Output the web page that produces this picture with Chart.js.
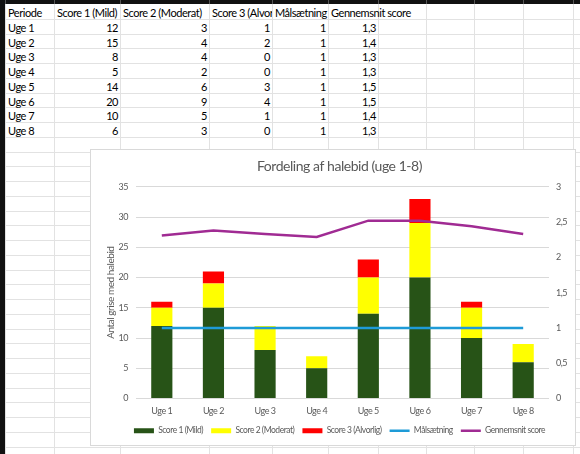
<!DOCTYPE html>
<html><head><meta charset="utf-8">
<script src="https://cdn.jsdelivr.net/npm/chart.js@4.4.0/dist/chart.umd.min.js"></script>
<style>
html,body{margin:0;padding:0;background:#fff;}
#sheet{position:relative;width:580px;height:454px;overflow:hidden;font-family:Lato, "Noto Sans", sans-serif;font-size:11px;letter-spacing:-0.45px;color:#000;}
.vl{position:absolute;top:0;width:1px;height:454px;background:#E2E2E2;}
.hl{position:absolute;left:0;height:1px;width:580px;background:#E2E2E2;}
.cell{position:absolute;height:15px;line-height:15px;overflow:hidden;white-space:nowrap;}
.topbar{position:absolute;left:0;top:0;width:580px;height:4px;background:#111;}
.leftbar{position:absolute;left:0;top:0;width:5px;height:454px;background:#111;}
#chartbox{position:absolute;left:90px;top:149px;width:486px;height:297px;background:#fff;border:1px solid #D9D9D9;box-sizing:border-box;}
#chartbox canvas{position:absolute;left:0;top:0;}
</style>
</head><body>
<div id="sheet">
  <div id="chartbox"><canvas id="c" width="484" height="295"></canvas></div>
</div>
<script>
// ---- data ----
const headers = ['Periode','Score 1 (Mild)','Score 2 (Moderat)','Score 3 (Alvorlig)','Målsætning','Gennemsnit score'];
const categories = ['Uge 1','Uge 2','Uge 3','Uge 4','Uge 5','Uge 6','Uge 7','Uge 8'];
const score1 = [12,15,8,5,14,20,10,6];
const score2 = [3,4,4,2,6,9,5,3];
const score3 = [1,2,0,0,3,4,1,0];
const maalsaetning = [1,1,1,1,1,1,1,1];
const gennemsnitTabel = ['1,3','1,4','1,3','1,3','1,5','1,5','1,4','1,3'];
const gennemsnitLinje = [2.31,2.38,2.33,2.29,2.52,2.52,2.44,2.33];
const leftTicks = [0,5,10,15,20,25,30,35];
const rightTicks = [0,0.5,1,1.5,2,2.5,3];

// ---- spreadsheet ----
const sheet = document.getElementById('sheet');
const chartbox = document.getElementById('chartbox');
const colX = [5,54,120,209,272,328,378,426,474,523,573];
const rowY = k => 4 + 14.75*k;
function add(cls, style, text){
  const d = document.createElement('div'); d.className = cls;
  Object.assign(d.style, style); if (text!==undefined) d.textContent = text;
  sheet.insertBefore(d, chartbox); return d;
}
for (let k=1;k<31;k++) add('hl',{top:Math.round(rowY(k))+'px'});
colX.forEach(x=>add('vl',{left:x+'px'}));
add('topbar',{}); add('leftbar',{});
colX.forEach(x=>add('vl',{left:x+'px',height:'4px',background:'#555'}));
function cellText(col,row,text,align,overflow){
  const left = colX[col], w = colX[col+1]-colX[col];
  const st = {top:(Math.round(rowY(row))+1)+'px', left:(left+1)+'px', width:(overflow? 120 : w-1)+'px'};
  if (align==='right'){ st.textAlign='right'; st.paddingRight='2px'; st.boxSizing='border-box'; }
  else { st.paddingLeft='2px'; st.boxSizing='border-box'; }
  add('cell',st,text);
}
headers.forEach((h,i)=>cellText(i,0,h,'left',i===5));
categories.forEach((c,r)=>{
  cellText(0,r+1,c,'left');
  cellText(1,r+1,String(score1[r]),'right');
  cellText(2,r+1,String(score2[r]),'right');
  cellText(3,r+1,String(score3[r]),'right');
  cellText(4,r+1,String(maalsaetning[r]),'right');
  cellText(5,r+1,gennemsnitTabel[r],'right');
});

// ---- chart ----
Chart.defaults.font.family = 'Lato, "Noto Sans", sans-serif';
Chart.defaults.color = '#595959';
const txt = '#595959';
new Chart(document.getElementById('c'), {
  data: {
    labels: categories,
    datasets: [
      {type:'bar',label:'Score 1 (Mild)',data:score1,backgroundColor:'#275317',yAxisID:'y',order:1},
      {type:'bar',label:'Score 2 (Moderat)',data:score2,backgroundColor:'#FFFF00',yAxisID:'y',order:1},
      {type:'bar',label:'Score 3 (Alvorlig)',data:score3,backgroundColor:'#FF0000',yAxisID:'y',order:1},
      {type:'line',label:'Målsætning',data:maalsaetning,borderColor:'#1E9BD7',backgroundColor:'#1E9BD7',borderWidth:2.5,pointRadius:0,tension:0,yAxisID:'y1',order:0},
      {type:'line',label:'Gennemsnit score',data:gennemsnitLinje,borderColor:'#A02B93',backgroundColor:'#A02B93',borderWidth:2.5,pointRadius:0,tension:0,yAxisID:'y1',order:0}
    ]
  },
  options: {
    responsive:false, animation:false,
    datasets:{bar:{categoryPercentage:1,barPercentage:0.41}},
    layout:{padding:{left:13,right:0,top:0,bottom:0}},
    plugins:{
      tooltip:{enabled:false},
      title:{display:true,text:'Fordeling af halebid (uge 1-8)',color:txt,font:{size:14,weight:'normal'},padding:{top:8,bottom:12}},
      legend:{position:'bottom',labels:{
        usePointStyle:true,pointStyleWidth:20,boxHeight:5,padding:8,color:txt,font:{size:8.5},
        sort:(a,b)=>a.datasetIndex-b.datasetIndex,
        generateLabels:(chart)=>chart.data.datasets.map((ds,i)=>{
          const isLine = ds.type==='line';
          const col = isLine? ds.borderColor : ds.backgroundColor;
          return {text:ds.label,fillStyle:col,strokeStyle:col,lineWidth:isLine?2.5:0,pointStyle:isLine?'line':'rect',datasetIndex:i,hidden:false,fontColor:txt};
        })
      }}
    },
    scales:{
      x:{stacked:true,grid:{display:false,drawTicks:false},border:{display:false},
         afterFit:s=>{s.height=20;},
         ticks:{color:txt,font:{size:9},padding:7}},
      y:{stacked:true,min:0,max:35,position:'left',
         afterBuildTicks:s=>{s.ticks=leftTicks.map(v=>({value:v}));},
         afterFit:s=>{s.width=32;},
         grid:{color:'#D9D9D9',drawTicks:false},border:{display:false},
         ticks:{color:txt,font:{size:9},padding:8},
         title:{display:true,text:'Antal grise med halebid',color:txt,font:{size:10},padding:{top:1,bottom:1}}},
      y1:{min:0,max:3,position:'right',
         afterBuildTicks:s=>{s.ticks=rightTicks.map(v=>({value:v}));},
         afterFit:s=>{s.width=26;},
         grid:{display:false,drawTicks:false},border:{display:false},
         ticks:{color:txt,font:{size:9},padding:7,callback:v=>String(v).replace('.',',')}}
    }
  }
});
</script>
</body></html>
